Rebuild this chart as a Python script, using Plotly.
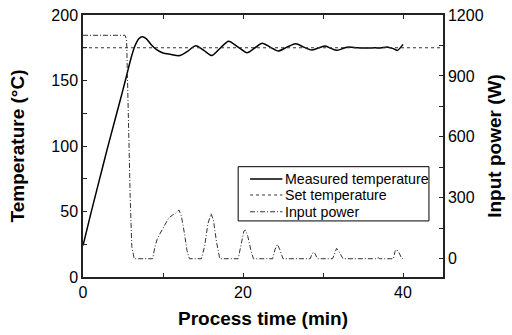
import plotly.graph_objects as go

# Measured temperature (°C) vs process time (min)
t_meas = [0, 1.0, 2.0, 3.0, 4.0, 5.0, 5.5, 6.0, 6.5, 7.0, 7.4, 7.9, 8.5, 9.2, 10.0, 10.9, 12.1,
          13.1, 14.1, 15.1, 16.1, 17.2, 18.2, 19.4, 20.5, 21.5, 22.4, 23.4, 24.4, 25.5,
          26.6, 27.6, 28.6, 29.4, 30.3, 31.0, 31.7, 32.5, 33.2, 34.3, 35.5, 36.5, 37.2,
          38.0, 38.7, 39.3, 40.0]
T_meas = [24, 49, 73, 97, 120, 143, 155, 167, 176.5, 182, 183.4, 182, 177.5, 173.5, 171, 170, 169,
          172.5, 176.5, 173, 169, 175, 180, 175.5, 171.2, 175, 178.4, 175.5, 172.5, 175.5,
          178, 175.5, 173.3, 174.8, 176.3, 174.5, 173, 174.5, 175.6, 175, 174.8, 175, 174.8,
          175.6, 174.5, 173, 177.6]

# Set temperature (°C)
t_set = [0, 45]
T_set = [175, 175]

# Input power (W)
t_pow = [0, 5.25, 5.45, 5.6, 5.9, 6.1, 6.4,
         8.7, 9.0, 9.3, 9.7, 10.2, 10.7, 11.2, 11.6, 12.0, 12.3, 12.7, 13.0, 13.3,
         14.8, 15.2, 15.6, 16.0, 16.3, 16.7, 17.1,
         19.4, 19.8, 20.1, 20.3, 20.6, 21.0, 21.3,
         23.7, 24.0, 24.3, 24.6, 25.0,
         28.4, 28.6, 28.8, 29.0, 29.3,
         31.2, 31.5, 31.7, 32.0, 32.5,
         36.7, 36.9, 37.1,
         38.8, 39.0, 39.2, 39.5, 39.8, 40.0]
P_pow = [1100, 1100, 1080, 800, 300, 60, 0,
         0, 60, 100, 130, 165, 200, 215, 225, 240, 210, 120, 40, 0,
         0, 60, 170, 222, 190, 80, 0,
         0, 80, 135, 141, 110, 40, 0,
         0, 45, 71, 45, 0,
         0, 20, 33, 25, 0,
         0, 35, 51, 35, 0,
         0, 5, 0,
         0, 35, 46, 30, 5, 0]

x_ticks = [0, 20, 40]
y1_ticks = [0, 50, 100, 150, 200]
y2_ticks = [0, 300, 600, 900, 1200]

series_names = ["Measured temperature", "Set temperature", "Input power"]
series_dash = ["solid", "3px,3px", "5px,2px,1px,2px"]
series_width = [1.5, 1, 1]
series_color = ["black", "#333", "#333"]

FONT = "Liberation Sans, Arial, sans-serif"

fig = go.Figure()
fig.add_trace(go.Scatter(x=t_meas, y=T_meas, mode="lines", name=series_names[0],
                         line=dict(color=series_color[0], width=series_width[0],
                                   shape="spline", smoothing=0.7)))
fig.add_trace(go.Scatter(x=t_set, y=T_set, mode="lines", name=series_names[1],
                         line=dict(color=series_color[1], width=series_width[1], dash=series_dash[1])))
fig.add_trace(go.Scatter(x=t_pow, y=P_pow, mode="lines", name=series_names[2], yaxis="y2",
                         line=dict(color=series_color[2], width=series_width[2], dash=series_dash[2])))

# Custom legend box (paper coordinates)
lx0, lx1, ly0, ly1 = 0.431, 0.961, 0.214, 0.421
fig.add_shape(type="rect", xref="paper", yref="paper", x0=lx0, x1=lx1, y0=ly0, y1=ly1,
              line=dict(color="black", width=1), fillcolor="white", layer="above")
row_y = [0.374, 0.313, 0.249]
for name, dash, w, c, ry in zip(series_names, series_dash, series_width, series_color, row_y):
    fig.add_shape(type="line", xref="paper", yref="paper", x0=0.464, x1=0.554, y0=ry, y1=ry,
                  line=dict(color=c, width=w, dash=dash), layer="above")
    fig.add_annotation(xref="paper", yref="paper", x=0.556, y=ry, text=name, showarrow=False,
                       xanchor="left", yanchor="middle",
                       font=dict(family=FONT, size=14.2, color="black"))

axis_common = dict(showline=True, linecolor="#222", linewidth=1.5, ticks="inside",
                   ticklen=4, tickwidth=1, tickcolor="#222", showgrid=False, zeroline=False,
                   automargin=False,
                   tickfont=dict(family=FONT, size=16, color="black"))

fig.update_layout(
    width=512, height=335,
    margin=dict(l=83, r=69, t=15, b=58, autoexpand=False),
    plot_bgcolor="white", paper_bgcolor="white",
    showlegend=False,
    xaxis=dict(range=[0, 45], tickvals=x_ticks, mirror="ticks",
               minor=dict(ticks="inside", ticklen=4, dtick=10, tick0=0, tickcolor="#222"),
               title=dict(text="<b>Process time (min)</b>", standoff=12,
                          font=dict(family=FONT, size=19, color="black")),
               **axis_common),
    yaxis=dict(range=[0, 200], tickvals=y1_ticks,
               minor=dict(ticks="inside", ticklen=4, dtick=25, tick0=0, tickcolor="#222"),
               title=dict(text="<b>Temperature (°C)</b>", standoff=22,
                          font=dict(family=FONT, size=19, color="black")),
               **axis_common),
    yaxis2=dict(range=[-90, 1200], tickvals=y2_ticks, overlaying="y", side="right",
                minor=dict(ticks="inside", ticklen=4, dtick=150, tick0=0, tickcolor="#222"),
                title=dict(text="<b>Input power (W)</b>", standoff=5,
                           font=dict(family=FONT, size=19, color="black")),
                **axis_common),
)

fig.write_html("out.html")
